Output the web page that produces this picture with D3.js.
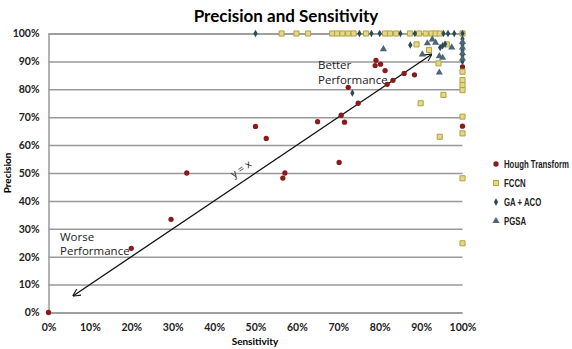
<!DOCTYPE html>
<html>
<head>
<meta charset="utf-8">
<script src="https://cdn.jsdelivr.net/npm/d3@7"></script>
<style>
body { margin:0; background:#fff; }
text { font-family: Lato, "Open Sans", sans-serif; }
.tick text { font-family: Lato, sans-serif; font-weight:bold; font-size:10.5px; fill:#222; }
.legendText { font-family:"Liberation Sans",sans-serif; font-weight:bold; font-size:10px; fill:#222; }
.note { font-family:"Open Sans", sans-serif; font-size:11.5px; fill:#222; }
</style>
</head>
<body>
<svg width="572" height="349"></svg>
<script>
// [sensitivity %, precision %]
var hough = [[0,0],[20,23],[29.6,33.4],[33.4,50],[50,66.7],[52.6,62.4],[57.1,50],[56.6,48.2],[65,68.4],[70.7,70.7],
	[71.5,68.2],[70.2,53.8],[72.4,80.7],[74.8,75],[79.1,90.4],[78.9,88.5],[80.2,89],[81.3,86.7],[81.8,81.8],
	[83.2,83.2],[85.9,85.7],[88.4,85.2],[100,66.8],[100,88]];
var fccn = [[56.3,100],[59.9,100],[62.7,100],[68.5,100],[69.7,100],[71,100],[72.4,100],[73.7,100],[76.7,100],
	[81.3,100],[82.5,100],[84,100],[87.3,100],[89.5,100],[91.1,100],[92.5,100],[93.5,100],[94.5,100],[100,100],
	[88.9,96.1],[91.9,94.1],[96.2,96.1],[94.2,89.3],[95.4,78],[89.9,75],[94.5,63],[100,86.3],[100,83.3],
	[100,81.5],[100,79.7],[100,70.2],[100,64.2],[100,48.1],[100,24.8]];
var gaAco = [[50,100],[75.1,100],[78,100],[80,100],[85,100],[88.5,100],[95.4,100],[96.5,100],[98,100],[100,100],
	[73.4,78.7],[87.4,95.9],[94.6,95],[95.2,95.6],[95.8,96.2],[100,98],[100,96],[100,94],[100,92],[100,90]];
var pgsa = [[80.9,94.4],[91.5,96.5],[92.7,97.9],[93.5,96.7],[97.4,95],[94.4,91.9],[95.2,91.3],[94.4,86],
	[90.3,92.5],[100,97],[100,95],[100,93],[100,91]];
var ticks = [0,10,20,30,40,50,60,70,80,90,100];
var seriesNames = ["Hough Transform","FCCN","GA + ACO","PGSA"];
var diagLine = [[6,6],[92.5,92.5]];

var svg = d3.select("svg");
var x = d3.scaleLinear().domain([0,100]).range([48.5,462.5]);
var y = d3.scaleLinear().domain([0,100]).range([312.5,33.5]);

svg.append("defs").selectAll("marker")
	.data(["arrEnd","arrStart"])
	.enter().append("marker")
		.attr("id", function(d){ return d; })
		.attr("viewBox","0 -5 10 10")
		.attr("refX", 9).attr("refY", 0)
		.attr("markerWidth", 8).attr("markerHeight", 8)
		.attr("markerUnits","userSpaceOnUse")
		.attr("orient", function(d){ return d == "arrEnd" ? "auto" : "auto-start-reverse"; })
	.append("path")
		.attr("d","M0,-5L10,0L0,5")
		.attr("fill","none")
		.attr("stroke","#111")
		.attr("stroke-width",1.3);

// gridlines
svg.append("g")
	.attr("transform","translate(48.5,0)")
	.call(d3.axisLeft(y).tickValues(ticks).tickSize(-(x(100)-x(0))).tickPadding(9).tickFormat(function(d){ return d + "%"; }))
	.call(function(g){
		g.select(".domain").attr("stroke","#999").attr("stroke-width",1.5);
		g.selectAll(".tick line").attr("stroke","#999").attr("stroke-width",1.5);
	});

svg.append("g")
	.attr("transform","translate(0,312.5)")
	.call(d3.axisBottom(x).tickValues(ticks).tickSize(0).tickPadding(11).tickFormat(function(d){ return d + "%"; }))
	.call(function(g){ g.select(".domain").remove(); });

svg.append("text")
	.attr("x",286).attr("y",22)
	.attr("text-anchor","middle")
	.style("font-weight","bold").style("font-size","17px")
	.text("Precision and Sensitivity");

svg.append("text")
	.attr("x",255).attr("y",345)
	.attr("text-anchor","middle")
	.style("font-weight","bold").style("font-size","10px")
	.text("Sensitivity");

svg.append("text")
	.attr("transform","translate(11,173) rotate(-90)")
	.attr("text-anchor","middle")
	.style("font-weight","bold").style("font-size","10px")
	.text("Precision");

// y = x arrow
svg.append("line")
	.attr("x1",x(diagLine[0][0])).attr("y1",y(diagLine[0][1]))
	.attr("x2",x(diagLine[1][0])).attr("y2",y(diagLine[1][1]))
	.attr("stroke","#111").attr("stroke-width",1.3)
	.attr("marker-end","url(#arrEnd)")
	.attr("marker-start","url(#arrStart)");

svg.append("text")
	.attr("class","note")
	.attr("transform","translate(243,172) rotate(-34)")
	.attr("text-anchor","middle")
	.style("font-size","10.5px")
	.text("y = x");

svg.append("text").attr("class","note").attr("x",318).attr("y",69).text("Better");
svg.append("text").attr("class","note").attr("x",318).attr("y",84).text("Performance");
svg.append("text").attr("class","note").attr("x",60).attr("y",241).text("Worse");
svg.append("text").attr("class","note").attr("x",60).attr("y",255).text("Performance");

var sym = [
	{ type: d3.symbolCircle, size: 22, fill: "#8b1a1a", stroke: "none" },
	{ type: d3.symbolSquare, size: 26, fill: "#e2d78a", stroke: "#b3a23c" },
	{ type: d3.symbolDiamond, size: 16, fill: "#2e4a5a", stroke: "none" },
	{ type: d3.symbolTriangle, size: 22, fill: "#4b6675", stroke: "none" }
];

[hough, fccn, gaAco, pgsa].forEach(function(data, i){
	var s = sym[i];
	svg.append("g").attr("class","series" + i)
		.selectAll("path")
		.data(data)
		.enter().append("path")
			.attr("transform", function(d){ return "translate(" + [x(d[0]), y(d[1])] + ")"; })
			.attr("d", d3.symbol().type(s.type).size(s.size))
			.attr("fill", s.fill)
			.attr("stroke", s.stroke)
			.attr("stroke-width", 1);
});

// legend (text squeezed horizontally, like a narrow font)
var legend = svg.append("g").attr("transform","translate(496,164)");
seriesNames.forEach(function(name, i){
	var s = sym[i];
	var row = legend.append("g").attr("transform","translate(0," + i*19 + ")");
	row.append("path")
		.attr("d", d3.symbol().type(s.type).size(s.size))
		.attr("fill", s.fill)
		.attr("stroke", s.stroke);
	row.append("text")
		.attr("class","legendText")
		.attr("transform","translate(8,3.5) scale(0.78,1)")
		.text(name);
});
</script>
</body>
</html>
